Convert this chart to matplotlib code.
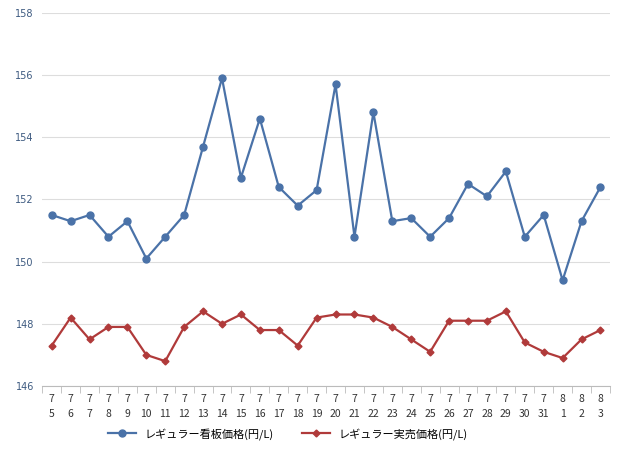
import matplotlib
matplotlib.use("Agg")
import matplotlib.pyplot as plt

dates = ["7\n5","7\n6","7\n7","7\n8","7\n9","7\n10","7\n11","7\n12","7\n13","7\n14","7\n15","7\n16","7\n17","7\n18","7\n19","7\n20","7\n21","7\n22","7\n23","7\n24","7\n25","7\n26","7\n27","7\n28","7\n29","7\n30","7\n31","8\n1","8\n2","8\n3"]
board = [151.5,151.3,151.5,150.8,151.3,150.1,150.8,151.5,153.7,155.9,152.7,154.6,152.4,151.8,152.3,155.7,150.8,154.8,151.3,151.4,150.8,151.4,152.5,152.1,152.9,150.8,151.5,149.4,151.3,152.4]
actual = [147.3,148.2,147.5,147.9,147.9,147.0,146.8,147.9,148.4,148.0,148.3,147.8,147.8,147.3,148.2,148.3,148.3,148.2,147.9,147.5,147.1,148.1,148.1,148.1,148.4,147.4,147.1,146.9,147.5,147.8]
yticks = [146,148,150,152,154,156,158]

fig = plt.figure(figsize=(6.4,4.59), dpi=100)
ax = fig.add_axes([0.066,0.159,0.887,0.813])
x = range(len(dates))
ax.plot(x, board, color="#4a72a8", marker="o", ms=5, lw=1.6, label="レギュラー看板価格(円/L)")
ax.plot(x, actual, color="#b03a3a", marker="D", ms=3.5, lw=1.6, label="レギュラー実売価格(円/L)")
ax.set_ylim(146,158)
ax.set_xlim(-0.5,len(dates)-0.5)
ax.set_yticks(yticks)
ax.set_yticklabels([str(v) for v in yticks], color="#3d5a80", fontsize=7)
ax.set_xticks(list(x))
ax.set_xticklabels(dates, fontsize=7.5, color="#333333", linespacing=1.6, fontfamily="Noto Sans CJK JP")
ax.tick_params(axis="x", length=0, pad=6)
ax.tick_params(axis="y", length=0, pad=6)
ax.set_xticks([i-0.5 for i in range(len(dates)+1)], minor=True)
ax.tick_params(axis="x", which="minor", length=5, color="#bbbbbb")
ax.grid(axis="y", color="#dddddd", lw=0.8)
for s in ["top","right","left"]:
    ax.spines[s].set_visible(False)
ax.spines["bottom"].set_color("#bbbbbb")
ax.set_axisbelow(True)
fig.legend(loc="lower center", bbox_to_anchor=(0.45,0.02), ncol=2, frameon=False,
           prop={"family":"Noto Sans CJK JP","size":8}, handlelength=2.5, columnspacing=2.5)
fig.savefig("out.png")
